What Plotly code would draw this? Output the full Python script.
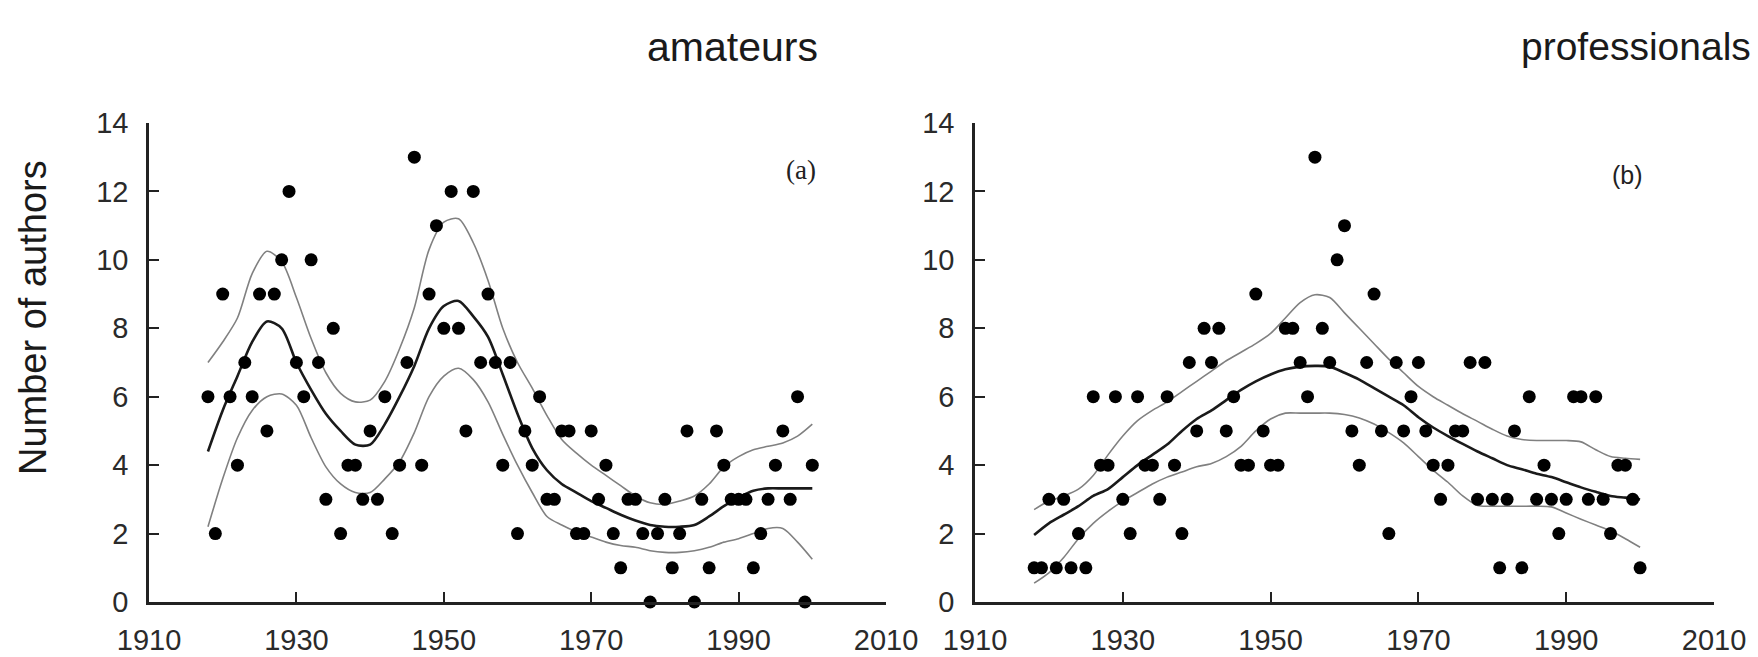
import plotly.graph_objects as go

# ---------------- data ----------------
years = list(range(1918, 2001))

amateurs = [6, 2, 9, 6, 4, 7, 6, 9, 5, 9, 10, 12, 7, 6, 10, 7, 3, 8, 2, 4,
            4, 3, 5, 3, 6, 2, 4, 7, 13, 4, 9, 11, 8, 12, 8, 5, 12, 7, 9, 7,
            4, 7, 2, 5, 4, 6, 3, 3, 5, 5, 2, 2, 5, 3, 4, 2, 1, 3, 3, 2,
            0, 2, 3, 1, 2, 5, 0, 3, 1, 5, 4, 3, 3, 3, 1, 2, 3, 4, 5, 3,
            6, 0, 4]

professionals = [1, 1, 3, 1, 3, 1, 2, 1, 6, 4, 4, 6, 3, 2, 6, 4, 4, 3, 6, 4,
                 2, 7, 5, 8, 7, 8, 5, 6, 4, 4, 9, 5, 4, 4, 8, 8, 7, 6, 13, 8,
                 7, 10, 11, 5, 4, 7, 9, 5, 2, 7, 5, 6, 7, 5, 4, 3, 4, 5, 5, 7,
                 3, 7, 3, 1, 3, 5, 1, 6, 3, 4, 3, 2, 3, 6, 6, 3, 6, 3, 2, 4,
                 4, 3, 1]

curve_years = [1918, 1920, 1922, 1924, 1926, 1928, 1930, 1932, 1934, 1936, 1938,
               1940, 1942, 1944, 1946, 1948, 1950, 1952, 1954, 1956, 1958, 1960,
               1962, 1964, 1966, 1968, 1970, 1972, 1974, 1976, 1978, 1980, 1982,
               1984, 1986, 1988, 1990, 1992, 1994, 1996, 1998, 2000]

am_fit = [4.4, 5.6, 6.6, 7.6, 8.2, 8.0, 7.0, 6.2, 5.5, 5.0, 4.6,
          4.6, 5.2, 6.0, 6.9, 8.0, 8.65, 8.8, 8.35, 7.75, 6.65, 5.5,
          4.5, 3.85, 3.45, 3.2, 2.95, 2.75, 2.55, 2.38, 2.25, 2.2, 2.2,
          2.25, 2.5, 2.8, 3.05, 3.25, 3.32, 3.32, 3.32, 3.32]
am_upper = [7.0, 7.6, 8.3, 9.6, 10.25, 9.95, 8.9, 7.7, 6.7, 6.1, 5.85,
            5.9, 6.45, 7.4, 8.6, 10.3, 11.1, 11.2, 10.5, 9.4, 8.0, 7.0,
            6.25, 5.45, 4.75, 4.35, 4.0, 3.7, 3.4, 3.1, 2.9, 2.85, 2.95,
            3.1, 3.45, 3.95, 4.25, 4.45, 4.55, 4.65, 4.85, 5.2]
am_lower = [2.2, 3.6, 4.8, 5.6, 6.0, 6.08, 5.75, 4.8, 3.95, 3.45, 3.2,
            3.2, 3.6, 4.1, 4.95, 6.0, 6.6, 6.83, 6.5, 5.85, 4.9, 4.0,
            3.2, 2.5, 2.25, 2.05, 1.9, 1.75, 1.65, 1.6, 1.5, 1.45, 1.45,
            1.5, 1.6, 1.75, 1.85, 2.0, 2.15, 2.15, 1.75, 1.25]

pro_fit = [1.96, 2.3, 2.55, 2.8, 3.1, 3.3, 3.65, 4.0, 4.3, 4.6, 5.0,
           5.35, 5.6, 5.9, 6.2, 6.45, 6.65, 6.8, 6.88, 6.9, 6.88, 6.7,
           6.5, 6.25, 6.0, 5.75, 5.4, 5.1, 4.85, 4.62, 4.4, 4.2, 4.0,
           3.88, 3.75, 3.65, 3.5, 3.35, 3.22, 3.1, 3.05, 3.0]
pro_upper = [2.7, 2.95, 3.1, 3.3, 3.7, 4.3, 4.85, 5.3, 5.6, 5.85, 6.15,
             6.45, 6.75, 7.05, 7.3, 7.55, 7.85, 8.3, 8.75, 8.98, 8.9, 8.45,
             8.0, 7.55, 7.1, 6.7, 6.3, 6.0, 5.75, 5.5, 5.28, 5.05, 4.85,
             4.75, 4.72, 4.72, 4.72, 4.68, 4.45, 4.25, 4.2, 4.17]
pro_lower = [0.55, 0.85, 1.3, 1.85, 2.3, 2.65, 2.95, 3.2, 3.45, 3.65, 3.8,
             3.95, 4.05, 4.25, 4.55, 5.0, 5.35, 5.52, 5.52, 5.52, 5.52, 5.48,
             5.38, 5.2, 4.95, 4.65, 4.25, 3.85, 3.5, 3.1, 2.82, 2.8, 2.8,
             2.8, 2.8, 2.78, 2.6, 2.42, 2.25, 2.08, 1.85, 1.6]

x_ticks = [1910, 1930, 1950, 1970, 1990, 2010]
y_ticks = [0, 2, 4, 6, 8, 10, 12, 14]
panel_titles = ["amateurs", "professionals"]
panel_tags = ["(a)", "(b)"]
y_title = "Number of authors"

# ---------------- figure ----------------
W, H = 1758, 657
fig = go.Figure()

panels = [
    ("x", "y", amateurs, am_fit, am_upper, am_lower),
    ("x2", "y2", professionals, pro_fit, pro_upper, pro_lower),
]
for xa, ya, pts, fit, up, lo in panels:
    for band in (up, lo):
        fig.add_trace(go.Scatter(x=curve_years, y=band, mode="lines", xaxis=xa, yaxis=ya,
                                 line=dict(color="#808080", width=1.6, shape="spline", smoothing=0.8),
                                 showlegend=False, hoverinfo="skip"))
    fig.add_trace(go.Scatter(x=curve_years, y=fit, mode="lines", xaxis=xa, yaxis=ya,
                             line=dict(color="#1a1a1a", width=2.6, shape="spline", smoothing=0.8),
                             showlegend=False, hoverinfo="skip"))
    fig.add_trace(go.Scatter(x=years, y=pts, mode="markers", xaxis=xa, yaxis=ya,
                             marker=dict(color="black", size=13), cliponaxis=False,
                             showlegend=False))

yb, yt = 1 - 602 / H, 1 - 123 / H
tick_font = dict(family="Liberation Sans, Arial, sans-serif", size=29, color="#2a2a2a")
axis_common = dict(showline=True, linecolor="#222", linewidth=2.5, ticks="inside",
                   ticklen=10, tickwidth=2, tickcolor="#222", showgrid=False,
                   zeroline=False, tickfont=tick_font, automargin=False)

fig.update_layout(
    width=W, height=H, margin=dict(l=0, r=0, t=0, b=0, pad=0),
    paper_bgcolor="white", plot_bgcolor="white",
    xaxis=dict(domain=[149 / W, 886 / W], range=[1910, 2010], tickvals=x_ticks,
               anchor="y", ticklabelstandoff=10, **axis_common),
    yaxis=dict(domain=[yb, yt], range=[0, 14], tickvals=y_ticks, anchor="x",
               ticklabelstandoff=12, **axis_common),
    xaxis2=dict(domain=[975 / W, 1714 / W], range=[1910, 2010], tickvals=x_ticks,
                anchor="y2", ticklabelstandoff=10, **axis_common),
    yaxis2=dict(domain=[yb, yt], range=[0, 14], tickvals=y_ticks, anchor="x2",
                ticklabelstandoff=12, **axis_common),
)

title_family = "Liberation Sans, Arial, sans-serif"
fig.add_annotation(text=panel_titles[0], x=732 / W, y=1 - 47 / H, xref="paper", yref="paper",
                   showarrow=False, xanchor="center", yanchor="middle",
                   font=dict(family=title_family, size=41, color="#1a1a1a"))
fig.add_annotation(text=panel_titles[1], x=1753 / W, y=1 - 47 / H, xref="paper", yref="paper",
                   showarrow=False, xanchor="right", yanchor="middle",
                   font=dict(family=title_family, size=39, color="#1a1a1a"))
fig.add_annotation(text=y_title, x=33 / W, y=1 - 318 / H, xref="paper", yref="paper",
                   showarrow=False, textangle=-90, xanchor="center", yanchor="middle",
                   font=dict(family="Liberation Sans, Arial, sans-serif", size=38, color="#1a1a1a"))
fig.add_annotation(text=panel_tags[0], x=801 / W, y=1 - 170 / H, xref="paper", yref="paper",
                   showarrow=False, xanchor="center", yanchor="middle",
                   font=dict(family="Liberation Serif, Times New Roman, serif", size=27, color="#222"))
fig.add_annotation(text=panel_tags[1], x=1627 / W, y=1 - 175 / H, xref="paper", yref="paper",
                   showarrow=False, xanchor="center", yanchor="middle",
                   font=dict(family="Liberation Sans, Arial, sans-serif", size=25, color="#222"))

fig.write_html("out.html")
